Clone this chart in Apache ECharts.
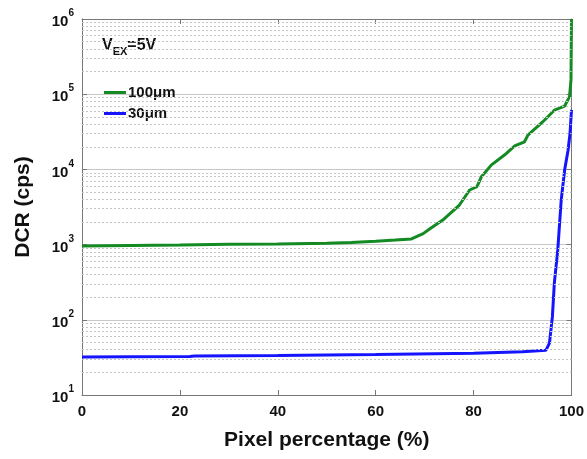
<!DOCTYPE html>
<html><head><meta charset="utf-8">
<script src="https://cdn.jsdelivr.net/npm/echarts@6/dist/echarts.min.js"></script>
<style>html,body{margin:0;padding:0;background:#fff}#c{width:587px;height:459px}</style>
</head><body><div id="c"></div>
<script>
// ---- data ----
var xTicks = [0, 20, 40, 60, 80, 100];
var yDecades = [10, 100, 1000, 10000, 100000, 1000000];
var minorGrid = [20,30,40,50,60,70,80,90,200,300,400,500,600,700,800,900,2000,3000,4000,5000,6000,7000,8000,9000,20000,30000,40000,50000,60000,70000,80000,90000,200000,300000,400000,500000,600000,700000,800000,900000];
var pct100 = [0, 10, 20, 30, 40, 50, 55, 60, 64, 67.3, 69.7, 71, 73.7, 77.1, 79.2, 80.7, 81.6, 83.6, 86.7, 88.4, 90.4, 91.1, 94.1, 96.5, 98.6, 99.6, 99.9, 100];
var dcr100 = [955, 975, 990, 1010, 1020, 1040, 1065, 1110, 1150, 1190, 1400, 1610, 2120, 3360, 5320, 5900, 8000, 11400, 16300, 20500, 23300, 28600, 42700, 61200, 69600, 93000, 155000, 1000000];
var pct30 = [0, 10, 22, 23, 40, 60, 80, 90, 94.8, 95.5, 96.1, 96.5, 97.2, 97.9, 98.6, 99.3, 99.7, 100];
var dcr30 = [32, 32.3, 32.5, 33, 33.5, 34.5, 36, 37.5, 39.5, 49, 110, 310, 850, 3900, 9800, 18000, 30000, 62000];
var seriesNames = ['100\u03bcm', '30\u03bcm'];

function pairs(xs, ys){ return xs.map(function(x,i){ return [x, ys[i]]; }); }
var chart = echarts.init(document.getElementById('c'), null, {renderer:'canvas'});
var F = 'Liberation Sans, Arial, sans-serif';
var opt = {
  animation: false,
  backgroundColor: '#fff',
  grid: {left: 82, right: 15, top: 19, bottom: 64},
  legend: {
    left: 99, top: 80, orient: 'vertical', itemGap: 6,
    itemWidth: 22, itemHeight: 3, icon: 'rect',
    textStyle: {fontFamily: F, fontWeight: 'bold', fontSize: 15, color: '#111', padding: [0,0,0,-3]},
    data: seriesNames
  },
  xAxis: [{
    type: 'value', min: 0, max: 100, interval: 20,
    axisLine: {show: true, onZero: false, lineStyle: {color: '#777', width: 1}},
    axisTick: {inside: true, length: 5, lineStyle: {color: '#777'}},
    axisLabel: {fontFamily: F, fontWeight: 'bold', fontSize: 15, color: '#111', margin: 9},
    splitLine: {show: false},
    name: 'Pixel percentage (%)', nameLocation: 'middle', nameGap: 35,
    nameTextStyle: {fontFamily: F, fontWeight: 'bold', fontSize: 21, color: '#111'}
  },{
    type: 'value', min: 0, max: 100, interval: 20, position: 'top',
    axisLine: {show: true, onZero: false, lineStyle: {color: '#777', width: 1}},
    axisTick: {inside: true, length: 5, lineStyle: {color: '#777'}},
    axisLabel: {show: false}, splitLine: {show: false}
  }],
  yAxis: [{
    type: 'log', logBase: 10, min: 10, max: 1000000, splitNumber: 5,
    axisLine: {show: true, onZero: false, lineStyle: {color: '#777', width: 1}},
    axisTick: {inside: true, length: 5, lineStyle: {color: '#777'}},
    axisLabel: {
      margin: 8,
      formatter: function(v){ var e = Math.round(Math.log10(v)); return '{b|10}{s|' + e + '}'; },
      rich: {
        b: {fontFamily: F, fontWeight: 'bold', fontSize: 15, color: '#111', verticalAlign: 'bottom'},
        s: {fontFamily: F, fontWeight: 'bold', fontSize: 10, color: '#111', verticalAlign: 'bottom', padding: [0,0,11,0]}
      }
    },
    splitLine: {show: true, lineStyle: {color: '#c8c8c8', width: 1}},
    name: 'DCR (cps)', nameLocation: 'middle', nameGap: 48, nameRotate: 90,
    nameTextStyle: {fontFamily: F, fontWeight: 'bold', fontSize: 21, color: '#111'}
  },{
    type: 'log', logBase: 10, min: 10, max: 1000000, splitNumber: 5, position: 'right',
    axisLine: {show: true, onZero: false, lineStyle: {color: '#777', width: 1}},
    axisTick: {inside: true, length: 5, lineStyle: {color: '#777'}},
    axisLabel: {show: false}, splitLine: {show: false}
  }],
  graphic: [{
    type: 'text', left: 102, top: 38,
    style: {
      text: 'V{sub|EX}=5V',
      font: 'bold 16px ' + F, fill: '#111',
      rich: {sub: {font: 'bold 11px ' + F, fill: '#111', padding: [12,0,0,0]}}
    }
  }],
  series: [{
    type: 'line', name: 'grid', data: [], z: 1, silent: true,
    markLine: {
      silent: true, symbol: 'none', animation: false,
      label: {show: false},
      lineStyle: {color: '#c4c4c4', type: [2, 2], width: 1},
      data: minorGrid.map(function(v){ return {yAxis: v}; })
    }
  },{
    type: 'line', name: seriesNames[0], data: pairs(pct100, dcr100),
    showSymbol: false, z: 3, color: '#138a22',
    lineStyle: {color: '#138a22', width: 3}
  },{
    type: 'line', name: seriesNames[1], data: pairs(pct30, dcr30),
    showSymbol: false, z: 3, color: '#1414ff',
    lineStyle: {color: '#1414ff', width: 3}
  }]
};
chart.setOption(opt);
</script></body></html>
